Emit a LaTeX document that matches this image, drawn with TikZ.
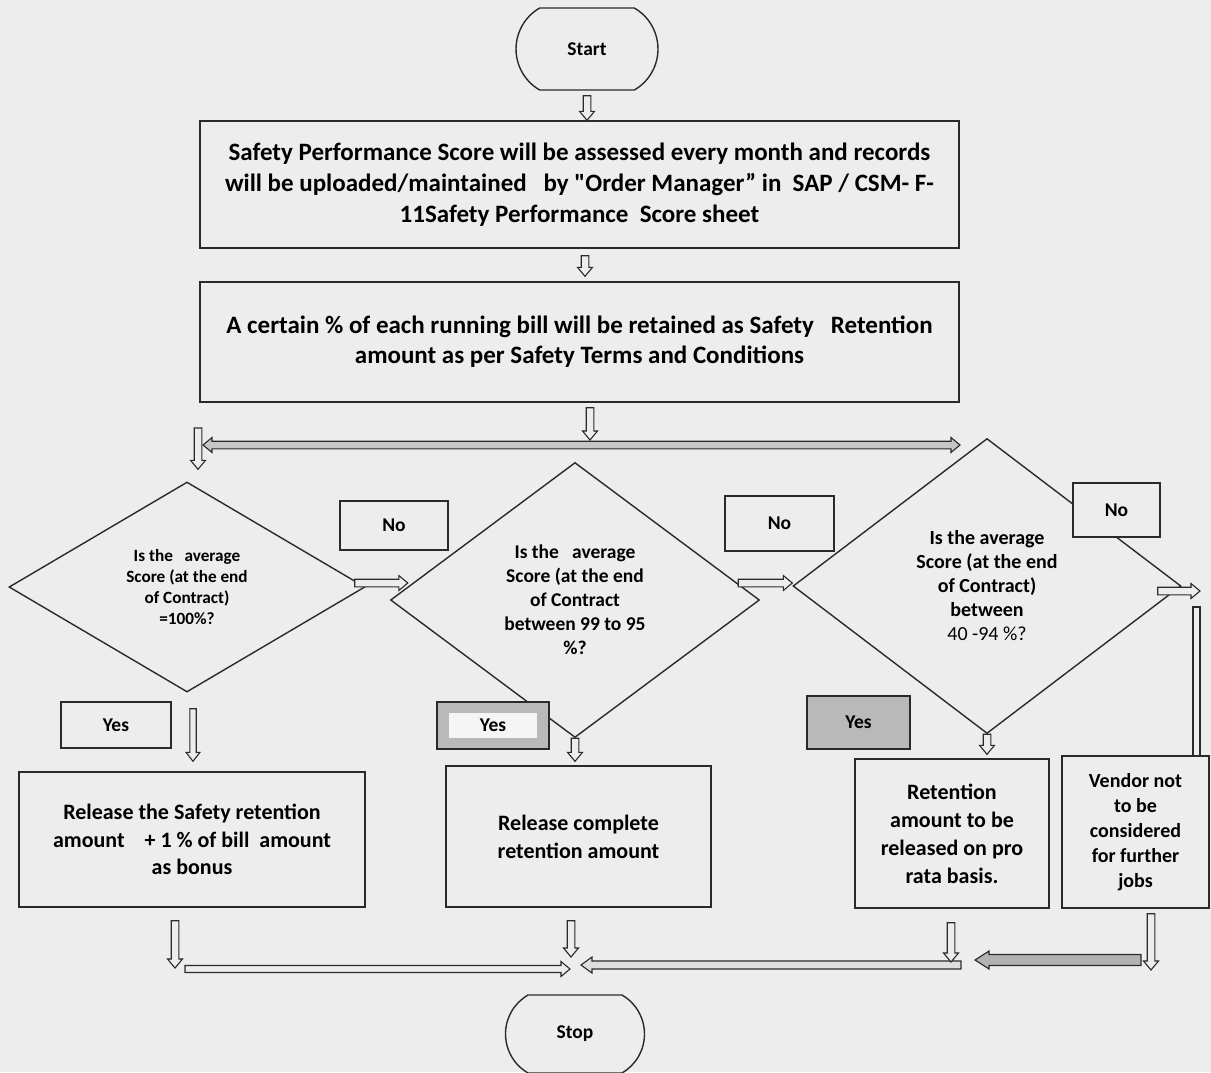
\documentclass[tikz,border=0pt]{standalone}
\usepackage{fontspec}
\setmainfont{Carlito}[Ligatures=TeXOff]
\usetikzlibrary{shapes.geometric,shapes.misc,calc}
\definecolor{bg}{HTML}{EDEDED}
\definecolor{ink}{HTML}{2A2A2A}
\tikzset{
  arrshaft/.store in=\arrshaftw, arrhead/.store in=\arrheadw, arrlen/.store in=\arrlenw,
  arrshaft=3.8pt, arrhead=7.5pt, arrlen=9pt,
  ln/.style={draw=ink, line width=1.4pt},
  box/.style={ln, rectangle, fill=bg, inner sep=0pt, align=center},
  dia/.style={ln, diamond, aspect=1.6, inner sep=0pt, align=center},
  lab/.style={ln, rectangle, fill=bg, inner sep=0pt, font=\bfseries\fontsize{19.5}{24}\selectfont},
  term/.style={ln, rounded rectangle, rounded rectangle arc length=120, fill=bg, inner sep=0pt,
     font=\bfseries\fontsize{19.5}{24}\selectfont},
  blkv/.style={draw=ink, line width=1.1pt, fill=bg, line join=miter,
    to path={let \p1=(\tikztostart), \p2=(\tikztotarget), \n1={sign(\y2-\y1)} in
      ({\x1-\arrshaftw},\y1) -- ({\x1-\arrshaftw},{\y2-(\n1)*\arrlenw}) -- ({\x1-\arrheadw},{\y2-(\n1)*\arrlenw})
      -- (\x1,\y2) -- ({\x1+\arrheadw},{\y2-(\n1)*\arrlenw}) -- ({\x1+\arrshaftw},{\y2-(\n1)*\arrlenw})
      -- ({\x1+\arrshaftw},\y1) -- cycle}},
  blkh/.style={draw=ink, line width=1.1pt, fill=bg, line join=miter,
    to path={let \p1=(\tikztostart), \p2=(\tikztotarget), \n1={sign(\x2-\x1)} in
      (\x1,{\y1-\arrshaftw}) -- ({\x2-(\n1)*\arrlenw},{\y1-\arrshaftw}) -- ({\x2-(\n1)*\arrlenw},{\y1-\arrheadw})
      -- (\x2,\y1) -- ({\x2-(\n1)*\arrlenw},{\y1+\arrheadw}) -- ({\x2-(\n1)*\arrlenw},{\y1+\arrshaftw})
      -- (\x1,{\y1+\arrshaftw}) -- cycle}},
  blkhh/.style={draw=ink, line width=1.1pt, fill=bg, line join=miter,
    to path={let \p1=(\tikztostart), \p2=(\tikztotarget) in
      (\x1,\y1) -- ({\x1+\arrlenw},{\y1+\arrheadw}) -- ({\x1+\arrlenw},{\y1+\arrshaftw})
      -- ({\x2-\arrlenw},{\y1+\arrshaftw}) -- ({\x2-\arrlenw},{\y1+\arrheadw}) -- (\x2,\y1)
      -- ({\x2-\arrlenw},{\y1-\arrheadw}) -- ({\x2-\arrlenw},{\y1-\arrshaftw})
      -- ({\x1+\arrlenw},{\y1-\arrshaftw}) -- ({\x1+\arrlenw},{\y1-\arrheadw}) -- cycle}},
}
\begin{document}
\begin{tikzpicture}[x=1pt,y=-1pt]
\useasboundingbox (0,0) rectangle (1211,1072);
\fill[bg] (0,0) rectangle (1211,1072);

% terminals and process boxes
\node[term, minimum width=142pt, minimum height=82pt] (start) at (587,49) {Start};
\node[box, minimum width=759pt, minimum height=127pt, font=\bfseries\fontsize{25}{31}\selectfont] (box1) at (579.5,184.5)
  {Safety Performance Score will be assessed every month and records\\
   will be uploaded/maintained\ \ \ by "Order Manager” in\ \ SAP / CSM- F-\\
   11Safety Performance\ \ Score sheet};
\node[box, minimum width=759pt, minimum height=120pt, font=\bfseries\fontsize{25}{30}\selectfont] (box2) at (579.5,342)
  {A certain \% of each running bill will be retained as Safety\ \ \ Retention\\
   amount as per Safety Terms and Conditions};

% decisions
\node[dia, minimum width=356pt, minimum height=210pt, font=\bfseries\fontsize{17.2}{21}\selectfont] (d1) at (187,587)
  {Is the\ \ \ average\\ Score (at the end\\ of Contract)\\ =100\%?};
\node[dia, minimum width=369pt, minimum height=275pt, font=\bfseries\fontsize{19.5}{24}\selectfont] (d2) at (575,600)
  {Is the\ \ \ average\\ Score (at the end\\ of Contract\\ between 99 to 95\\ \%?};
\node[dia, minimum width=388pt, minimum height=295pt, font=\bfseries\fontsize{20}{24}\selectfont] (d3) at (987,586)
  {Is the average\\ Score (at the end\\ of Contract)\\ between\\ {\mdseries 40 -94 \%?}};

% labels
\node[lab, minimum width=108pt, minimum height=49pt] (no1) at (394,525.5) {No};
\node[lab, minimum width=109pt, minimum height=55pt] (no2) at (779.5,523.5) {No};
\node[lab, minimum width=87pt, minimum height=54pt] (no3) at (1116.5,510) {No};
\node[lab, minimum width=110pt, minimum height=46pt] (yes1) at (116,725) {Yes};
\node[lab, fill=gray!55, minimum width=112pt, minimum height=47pt,
  path picture={\fill[white!96!black] ([shift={(12pt,-11pt)}]path picture bounding box.north west)
     rectangle ([shift={(-12pt,11pt)}]path picture bounding box.south east);}] (yes2) at (493,725.5) {Yes};
\node[lab, fill=gray!55, minimum width=103pt, minimum height=53pt] (yes3) at (858.5,722.5) {Yes};

% outcomes
\node[box, minimum width=346pt, minimum height=135pt, font=\bfseries\fontsize{22}{27.5}\selectfont] (rel1) at (192,839.5)
  {Release the Safety retention\\ amount\ \ \ \ + 1 \% of bill\ \ amount\\ as bonus};
\node[box, minimum width=265pt, minimum height=141pt, font=\bfseries\fontsize{22}{28}\selectfont] (rel2) at (578.5,836.5)
  {Release complete\\ retention amount};
\node[box, minimum width=194pt, minimum height=149pt, font=\bfseries\fontsize{22}{28}\selectfont] (ret) at (952,833.5)
  {Retention\\ amount to be\\ released on pro\\ rata basis.};
\node[box, minimum width=147pt, minimum height=152pt, font=\bfseries\fontsize{20}{25}\selectfont] (vendor) at (1135.5,832)
  {Vendor not\\ to be\\ considered\\ for further\\ jobs};
\node[term, minimum width=139pt, minimum height=78pt] (stop) at (575,1034) {Stop};

% free ends
\coordinate (hlL) at (203,445);
\coordinate (hlR) at (960,445);
\coordinate (hlm) at (590,440);
\coordinate (dl) at (198,428);
\coordinate (rc) at (1200,597);
\coordinate (b1) at (175,968);
\coordinate (bl) at (185,969);
\coordinate (bm) at (570,969);
\coordinate (b2) at (571,957);
\coordinate (bR1) at (961,965);
\coordinate (bM1) at (581,965);
\coordinate (b3) at (951,962);
\coordinate (bR2) at (1141,960);
\coordinate (bM2) at (975,960);
\coordinate (b4) at (1151,970);

% connectors
\draw[blkv] ([yshift=-5pt]start.south) to (box1.north);
\draw[blkv] ([shift={(5.5pt,-7pt)}]box1.south) to ([yshift=5pt]box2.north);
\draw[blkv] ([shift={(10.5pt,-5pt)}]box2.south) to (hlm);
\draw[blkhh, fill=gray!45] (hlL) to (hlR);
\draw[blkv] (dl) to ([yshift=12pt]d1.north);
\draw[blkh] ([shift={(-11pt,4pt)}]d1.east) to ([shift={(18pt,17pt)}]d2.west);
\draw[blkh] ([shift={(-22pt,17pt)}]d2.east) to (d3.west);
\draw[blkh] ([shift={(-24pt,-5pt)}]d3.east) to (rc);
\draw[draw=ink, line width=1.1pt, fill=bg] ([shift={(-7pt,-10pt)}]rc) rectangle (vendor.north -| rc);
\draw[blkv, arrshaft=3.2pt, arrhead=7pt] ([shift={(6pt,-16pt)}]d1.south) to ([yshift=10pt]rel1.north);
\draw[blkv] (d2.south) to ([yshift=4pt]rel2.north);
\draw[blkv] (d3.south) to ([yshift=4pt]ret.north);
\draw[blkv] ([shift={(-17pt,-13pt)}]rel1.south) to (b1);
\draw[blkh, arrshaft=3.5pt] (bl) to (bm);
\draw[blkv] ([shift={(-7.5pt,-13pt)}]rel2.south) to (b2);
\draw[blkh, fill=gray!25, arrshaft=4pt, arrhead=8pt, arrlen=11pt] (bR1) to (bM1);
\draw[blkv] ([shift={(-1pt,-14pt)}]ret.south) to (b3);
\draw[blkh, fill=gray!60, arrshaft=5.5pt, arrhead=9pt, arrlen=14pt] (bR2) to (bM2);
\draw[blkv] ([shift={(15.5pt,-5pt)}]vendor.south) to (b4);
\end{tikzpicture}
\end{document}
